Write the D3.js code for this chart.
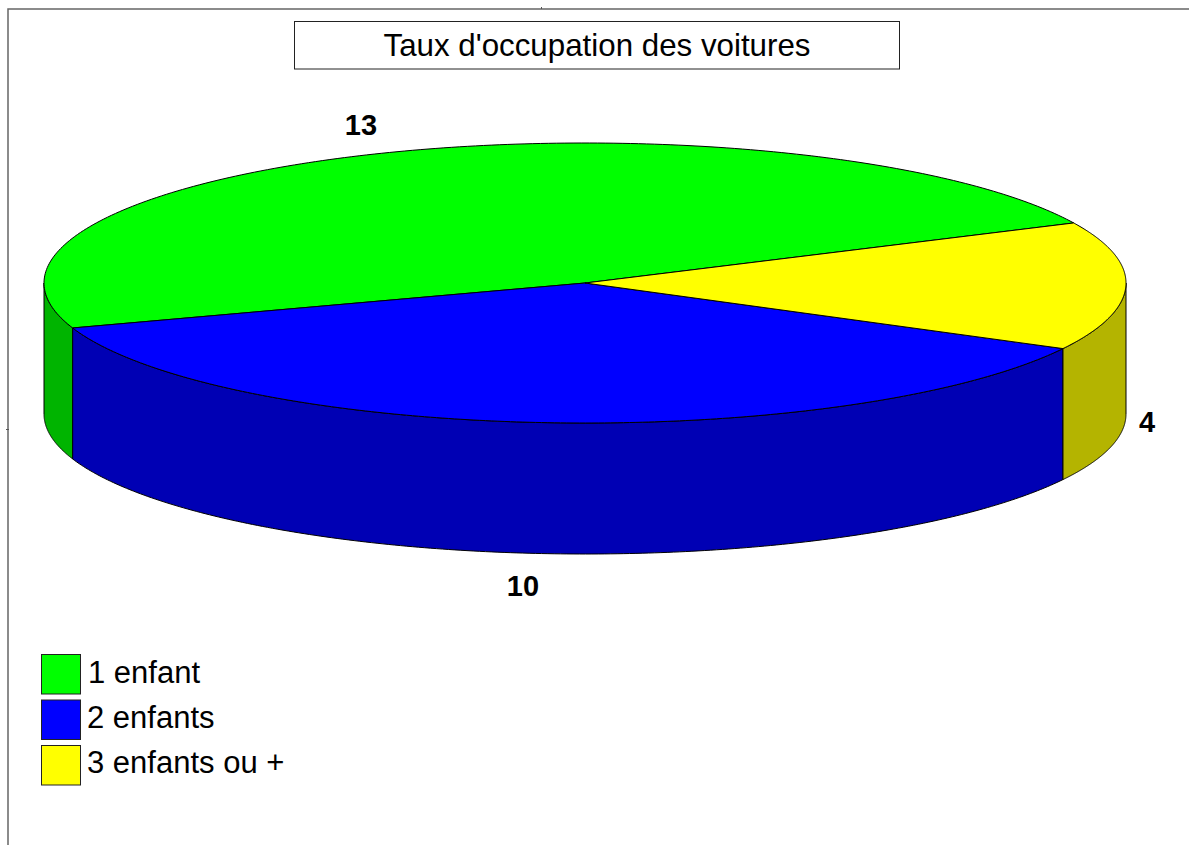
<!DOCTYPE html>
<html><head><meta charset="utf-8">
<script src="https://cdn.jsdelivr.net/npm/d3@7"></script>
<style>html,body{margin:0;padding:0;background:#fff}svg{display:block}text{font-family:"Liberation Sans",Arial,sans-serif;fill:#000}</style>
</head><body>
<svg id="c" width="1189" height="845"></svg>
<script>
const categories = ["1 enfant", "2 enfants", "3 enfants ou +"];
const seriesValues = [13, 10, 4];
const topColors = ["#00ff00", "#0000ff", "#ffff00"];
const sideColors = ["#00b400", "#0000b4", "#b4b400"];
const titleText = "Taux d'occupation des voitures";

const svg = d3.select("#c");
const W = 1189, H = 845;
const x = d3.scaleLinear().domain([-1, 1]).range([44, 1126]);
const y = d3.scaleLinear().domain([-1, 1]).range([143, 423]);
const depth = 131;
const deg = Math.PI / 180;

// frame
svg.append("path").attr("d", `M8 845V9H${W}`).attr("fill", "none").attr("stroke", "#666").attr("stroke-width", 1.5);
svg.append("path").attr("d", "M6 429.5H9M541.5 7V9").attr("fill", "none").attr("stroke", "#555").attr("stroke-width", 1);

// title
svg.append("rect").attr("x", 294.5).attr("y", 21.5).attr("width", 605).attr("height", 47.5)
  .attr("fill", "#fff").attr("stroke", "#222").attr("stroke-width", 1);
svg.append("text").attr("x", 597).attr("y", 56).attr("text-anchor", "middle").attr("font-size", 31.3).text(titleText);

// pie, counter-clockwise starting at the green / yellow boundary
const startA = 64.6 * deg;
const arcs = d3.pie().sort(null).startAngle(startA).endAngle(startA - 2 * Math.PI)(seriesValues);
const px = a => x(Math.sin(a));
const py = a => y(-Math.cos(a));
const samples = (a0, a1) => d3.range(0, 201).map(i => a0 + (a1 - a0) * i / 200);
const line = d3.line();

// side walls: only the front half is visible
function frontRange(a0, a1) {
  const lo = Math.min(a0, a1), hi = Math.max(a0, a1);
  const out = [];
  for (const k of [-1, 0, 1]) {
    const fLo = Math.PI / 2 + k * 2 * Math.PI, fHi = 3 * Math.PI / 2 + k * 2 * Math.PI;
    const l = Math.max(lo, fLo), h = Math.min(hi, fHi);
    if (h > l) out.push([l, h]);
  }
  return out;
}
const stroke = "#000";
arcs.forEach((d, i) => {
  frontRange(d.startAngle, d.endAngle).forEach(([l, h]) => {
    const pts = samples(l, h);
    const topPts = pts.map(a => [px(a), py(a)]);
    const botPts = pts.slice().reverse().map(a => [px(a), py(a) + depth]);
    svg.append("path").attr("d", line(topPts.concat(botPts)) + "Z")
      .attr("fill", sideColors[i]).attr("stroke", stroke).attr("stroke-width", 1).attr("stroke-linejoin", "round");
  });
});
arcs.forEach((d, i) => {
  const pts = samples(d.startAngle, d.endAngle).map(a => [px(a), py(a)]);
  svg.append("path").attr("d", line([[x(0), y(0)]].concat(pts)) + "Z")
    .attr("fill", topColors[i]).attr("stroke", stroke).attr("stroke-width", 1).attr("stroke-linejoin", "round");
});

// value labels
const labelAnchors = [[361, 135], [523, 596], [1147, 432]];
seriesValues.forEach((v, i) => {
  svg.append("text").attr("x", labelAnchors[i][0]).attr("y", labelAnchors[i][1])
    .attr("text-anchor", "middle").attr("font-size", 29).attr("font-weight", "bold").text(v);
});

// legend
const legY = d3.scalePoint().domain(categories).range([654, 745]);
const legTextY = d3.scalePoint().domain(categories).range([683, 773]);
const legendTextX = [88, 87, 87];
categories.forEach((c, i) => {
  svg.append("rect").attr("x", 41.5).attr("y", legY(c) + 0.5).attr("width", 39).attr("height", 39.5)
    .attr("fill", topColors[i]).attr("stroke", "#222").attr("stroke-width", 1);
  svg.append("text").attr("x", legendTextX[i]).attr("y", legTextY(c)).attr("font-size", 31).text(c);
});
</script>
</body></html>
